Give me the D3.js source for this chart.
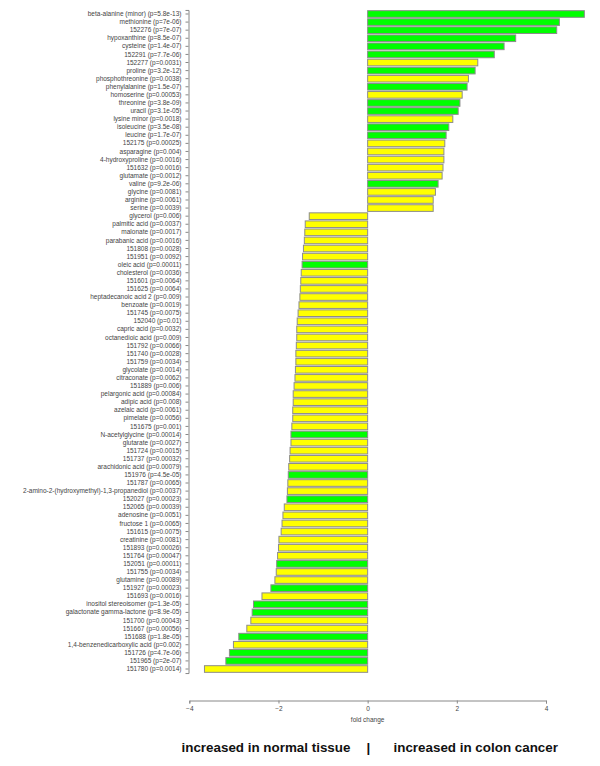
<!DOCTYPE html>
<html>
<head>
<meta charset="utf-8">
<script src="https://cdn.jsdelivr.net/npm/d3@7/dist/d3.min.js"></script>
<style>
  html, body { margin: 0; padding: 0; background: #fff; }
  svg { display: block; }
</style>
</head>
<body>
<svg id="chart" width="600" height="766"></svg>
<script>
const labels = [
  "beta-alanine (minor) (p=5.8e-13)",
  "methionine (p=7e-06)",
  "152276 (p=7e-07)",
  "hypoxanthine (p=8.5e-07)",
  "cysteine (p=1.4e-07)",
  "152291 (p=7.7e-06)",
  "152277 (p=0.0031)",
  "proline (p=3.2e-12)",
  "phosphothreonine (p=0.0038)",
  "phenylalanine (p=1.5e-07)",
  "homoserine (p=0.00053)",
  "threonine (p=3.8e-09)",
  "uracil (p=3.1e-05)",
  "lysine minor (p=0.0018)",
  "isoleucine (p=3.5e-08)",
  "leucine (p=1.7e-07)",
  "152175 (p=0.00025)",
  "asparagine (p=0.004)",
  "4-hydroxyproline (p=0.0016)",
  "151632 (p=0.0016)",
  "glutamate (p=0.0012)",
  "valine (p=9.2e-06)",
  "glycine (p=0.0081)",
  "arginine (p=0.0061)",
  "serine (p=0.0039)",
  "glycerol (p=0.006)",
  "palmitic acid (p=0.0037)",
  "malonate (p=0.0017)",
  "parabanic acid (p=0.0016)",
  "151808 (p=0.0028)",
  "151951 (p=0.0092)",
  "oleic acid (p=0.00011)",
  "cholesterol (p=0.0036)",
  "151601 (p=0.0064)",
  "151625 (p=0.0064)",
  "heptadecanoic acid 2 (p=0.009)",
  "benzoate (p=0.0019)",
  "151745 (p=0.0075)",
  "152040 (p=0.01)",
  "capric acid (p=0.0032)",
  "octanedioic acid (p=0.009)",
  "151792 (p=0.0066)",
  "151740 (p=0.0028)",
  "151759 (p=0.0034)",
  "glycolate (p=0.0014)",
  "citraconate (p=0.0062)",
  "151889 (p=0.006)",
  "pelargonic acid (p=0.00084)",
  "adipic acid (p=0.008)",
  "azelaic acid (p=0.0061)",
  "pimelate (p=0.0056)",
  "151675 (p=0.001)",
  "N-acetylglycine (p=0.00014)",
  "glutarate (p=0.0027)",
  "151724 (p=0.0015)",
  "151737 (p=0.00032)",
  "arachidonic acid (p=0.00079)",
  "151976 (p=4.5e-05)",
  "151787 (p=0.0065)",
  "2-amino-2-(hydroxymethyl)-1,3-propanediol (p=0.0037)",
  "152027 (p=0.00023)",
  "152065 (p=0.00039)",
  "adenosine (p=0.0051)",
  "fructose 1 (p=0.0065)",
  "151615 (p=0.0075)",
  "creatinine (p=0.0081)",
  "151893 (p=0.00026)",
  "151764 (p=0.00047)",
  "152051 (p=0.00011)",
  "151755 (p=0.0034)",
  "glutamine (p=0.00089)",
  "151927 (p=0.00023)",
  "151693 (p=0.0016)",
  "inositol stereoisomer (p=1.3e-05)",
  "galactonate gamma-lactone (p=8.9e-05)",
  "151700 (p=0.00043)",
  "151667 (p=0.00056)",
  "151688 (p=1.8e-05)",
  "1,4-benzenedicarboxylic acid (p=0.002)",
  "151726 (p=4.7e-06)",
  "151965 (p=2e-07)",
  "151780 (p=0.0014)"
];

const foldChange = [
  4.86, 4.30, 4.24, 3.32, 3.06, 2.84, 2.47, 2.41, 2.26, 2.23,
  2.12, 2.07, 2.03, 1.91, 1.82, 1.76, 1.73, 1.71, 1.71, 1.69,
  1.67, 1.58, 1.52, 1.47, 1.47,
  -1.31, -1.40, -1.41, -1.42, -1.44, -1.46, -1.47, -1.49, -1.50, -1.51,
  -1.52, -1.54, -1.56, -1.58, -1.59, -1.59, -1.60, -1.61, -1.61, -1.62,
  -1.63, -1.65, -1.67, -1.67, -1.68, -1.68, -1.70, -1.72, -1.72, -1.74,
  -1.75, -1.77, -1.78, -1.79, -1.80, -1.81, -1.87, -1.90, -1.92, -1.94,
  -1.99, -2.00, -2.02, -2.04, -2.05, -2.08, -2.17, -2.37, -2.56, -2.59,
  -2.62, -2.71, -2.89, -3.01, -3.10, -3.18, -3.66
];

// 1 = highly significant (green), 0 = significant (yellow)
const highlySignificant = [
  1,1,1,1,1,1,0,1,0,1,
  0,1,1,0,1,1,0,0,0,0,
  0,1,0,0,0,
  0,0,0,0,0,0,1,0,0,0,
  0,0,0,0,0,0,0,0,0,0,
  0,0,0,0,0,0,0,1,0,0,
  0,0,1,0,0,1,0,0,0,0,
  0,0,0,1,0,0,1,0,1,1,
  0,0,1,0,1,1,0
];

const xTicks = [-4, -2, 0, 2, 4];
const xTitle = "fold change";
const footerLeft = "increased in normal tissue";
const footerSep = "|";
const footerRight = "increased in colon cancer";

const colorScale = d3.scaleOrdinal().domain([0, 1]).range(["#ffff00", "#00ff00"]);

const svg = d3.select("#chart");

const x = d3.scaleLinear().domain([-4, 4]).range([189.3, 546]);
const y = d3.scaleBand().domain(labels).range([9.95, 673.05]).paddingInner(0.18).paddingOuter(0.09);

// bars
svg.append("g").selectAll("rect")
  .data(labels.map((l, i) => ({ label: l, v: foldChange[i], s: highlySignificant[i] })))
  .join("rect")
  .attr("x", d => x(Math.min(0, d.v)))
  .attr("y", d => y(d.label))
  .attr("width", d => Math.abs(x(d.v) - x(0)))
  .attr("height", y.bandwidth())
  .attr("fill", d => colorScale(d.s))
  .attr("stroke", "#8c8c8c")
  .attr("stroke-width", 1);

// left axis (category labels)
const yAxis = svg.append("g")
  .attr("transform", "translate(188.5,0)")
  .call(d3.axisLeft(y).tickSize(3).tickSizeOuter(3).tickPadding(4));
yAxis.selectAll("text")
  .attr("font-family", "'Liberation Sans', Arial, sans-serif")
  .attr("font-size", "6.5px")
  .attr("fill", "#444");
yAxis.selectAll("line").attr("stroke", "#888");
yAxis.select(".domain").attr("stroke", "#888");

// bottom axis
const xAxis = svg.append("g")
  .attr("transform", "translate(0,700.5)")
  .call(d3.axisBottom(x).tickValues(xTicks).tickSize(3).tickSizeOuter(3).tickPadding(3).tickFormat(d3.format("d")));
xAxis.selectAll("text")
  .attr("font-family", "'Liberation Sans', Arial, sans-serif")
  .attr("font-size", "6.5px")
  .attr("fill", "#444");
xAxis.selectAll("line").attr("stroke", "#888");
xAxis.select(".domain").attr("stroke", "#888");

svg.append("text")
  .attr("x", x(0))
  .attr("y", 722)
  .attr("text-anchor", "middle")
  .attr("font-family", "'Liberation Sans', Arial, sans-serif")
  .attr("font-size", "6.5px")
  .attr("fill", "#444")
  .text(xTitle);

// footer
const footer = svg.append("g")
  .attr("font-family", "'Liberation Sans', Arial, sans-serif")
  .attr("font-weight", "bold")
  .attr("font-size", "13.4px")
  .attr("fill", "#111");
footer.append("text").attr("x", 181.5).attr("y", 752).text(footerLeft);
footer.append("text").attr("x", 368.3).attr("y", 752).attr("text-anchor", "middle").text(footerSep);
footer.append("text").attr("x", 393.5).attr("y", 752).text(footerRight);
</script>
</body>
</html>
